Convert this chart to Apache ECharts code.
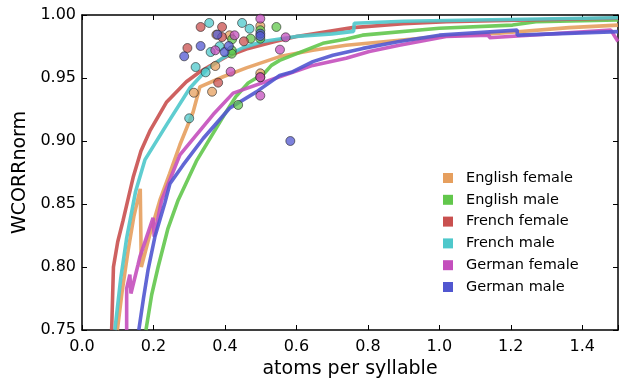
<!DOCTYPE html>
<html>
<head>
<meta charset="utf-8">
<script src="https://cdn.jsdelivr.net/npm/echarts@6/dist/echarts.min.js"></script>
<style>
  html, body { margin: 0; padding: 0; background: #fff; }
  #chart { width: 626px; height: 380px; }
</style>
</head>
<body>
<div id="chart"></div>
<script>
// group names, in legend order
const groups = ['English female', 'English male', 'French female', 'French male', 'German female', 'German male']
const colors = ['#e69f5e', '#62c74c', '#c9504f', '#4ec8cb', '#c44fbd', '#5157d0']

// x axis ticks
const xTicks = [0.0, 0.2, 0.4, 0.6, 0.8, 1.0, 1.2, 1.4]
const yTicks = [0.75, 0.80, 0.85, 0.90, 0.95, 1.00]

// curves: [atoms per syllable, WCORRnorm]
const englishFemaleLine = [
  [0.099, 0.75], [0.112, 0.78], [0.129, 0.813], [0.145, 0.84], [0.163, 0.862],
  [0.166, 0.80], [0.19, 0.826], [0.218, 0.853], [0.245, 0.874], [0.274, 0.897],
  [0.311, 0.923], [0.330, 0.943], [0.395, 0.951], [0.46, 0.958], [0.553, 0.967],
  [0.646, 0.972], [0.739, 0.976], [0.888, 0.980], [1.0, 0.983], [1.168, 0.9855],
  [1.363, 0.99], [1.5, 0.992]
]
const englishMaleLine = [
  [0.179, 0.75], [0.195, 0.778], [0.213, 0.80], [0.24, 0.83], [0.269, 0.853],
  [0.32, 0.884], [0.39, 0.917], [0.43, 0.935], [0.465, 0.946], [0.511, 0.954],
  [0.53, 0.96], [0.553, 0.964], [0.674, 0.9775], [0.74, 0.981], [0.785, 0.984],
  [1.0, 0.9895], [1.205, 0.992], [1.27, 0.9947], [1.5, 0.996]
]
const frenchFemaleLine = [
  [0.083, 0.75], [0.088, 0.80], [0.10, 0.82], [0.115, 0.837], [0.143, 0.871],
  [0.165, 0.892], [0.19, 0.908], [0.237, 0.931], [0.292, 0.947], [0.33, 0.955],
  [0.367, 0.961], [0.404, 0.967], [0.46, 0.973], [0.54, 0.979], [0.6, 0.983],
  [0.757, 0.990], [0.9, 0.993], [1.02, 0.9947], [1.25, 0.996], [1.5, 0.9975]
]
const frenchMaleLine = [
  [0.092, 0.75], [0.108, 0.79], [0.125, 0.823], [0.15, 0.86], [0.176, 0.885],
  [0.237, 0.913], [0.302, 0.942], [0.35, 0.957], [0.394, 0.966], [0.45, 0.974],
  [0.506, 0.979], [0.6, 0.983], [0.70, 0.985], [0.76, 0.987], [0.762, 0.9935],
  [0.9, 0.995], [1.1, 0.996], [1.5, 0.9978]
]
const germanFemaleLine = [
  [0.125, 0.75], [0.125, 0.783], [0.134, 0.794], [0.137, 0.779], [0.157, 0.802],
  [0.162, 0.808], [0.199, 0.839], [0.202, 0.824], [0.223, 0.853], [0.274, 0.889],
  [0.367, 0.921], [0.423, 0.938], [0.553, 0.951], [0.646, 0.960], [0.739, 0.9656],
  [0.804, 0.971], [0.888, 0.976], [1.019, 0.9829], [1.14, 0.984], [1.14, 0.982],
  [1.48, 0.988], [1.5, 0.979]
]
const germanMaleLine = [
  [0.159, 0.75], [0.172, 0.775], [0.185, 0.798], [0.204, 0.824], [0.232, 0.851],
  [0.246, 0.866], [0.283, 0.881], [0.339, 0.902], [0.413, 0.926], [0.488, 0.939],
  [0.553, 0.952], [0.59, 0.955], [0.646, 0.963], [0.702, 0.968], [0.786, 0.9735],
  [0.888, 0.979], [1.0, 0.984], [1.218, 0.988], [1.218, 0.984], [1.5, 0.9868]
]

// individual speaker points
const englishFemalePts = [
  [0.499, 0.9913], [0.413, 0.9839], [0.373, 0.9595], [0.313, 0.9383],
  [0.364, 0.9391], [0.499, 0.9537], [0.376, 0.9844]
]
const englishMalePts = [
  [0.499, 0.9879], [0.499, 0.9812], [0.544, 0.9905], [0.42, 0.9807],
  [0.472, 0.9812], [0.419, 0.972], [0.419, 0.9693], [0.437, 0.9286]
]
const frenchFemalePts = [
  [0.332, 0.9905], [0.392, 0.9905], [0.392, 0.9825], [0.453, 0.9791],
  [0.295, 0.9738], [0.381, 0.9463], [0.499, 0.9506]
]
const frenchMalePts = [
  [0.356, 0.9937], [0.448, 0.9937], [0.469, 0.9891], [0.360, 0.9706],
  [0.385, 0.9752], [0.318, 0.9587], [0.346, 0.9545], [0.300, 0.918]
]
const germanFemalePts = [
  [0.499, 0.9971], [0.570, 0.9823], [0.427, 0.9839], [0.373, 0.972],
  [0.554, 0.9725], [0.416, 0.955], [0.499, 0.9506], [0.499, 0.936]
]
const germanMalePts = [
  [0.499, 0.9852], [0.499, 0.9833], [0.379, 0.9844], [0.332, 0.9754],
  [0.286, 0.9672], [0.399, 0.9706], [0.411, 0.9754], [0.583, 0.90]
]

const lines = [englishFemaleLine, englishMaleLine, frenchFemaleLine, frenchMaleLine, germanFemaleLine, germanMaleLine]
const points = [englishFemalePts, englishMalePts, frenchFemalePts, frenchMalePts, germanFemalePts, germanMalePts]

const font = 'DejaVu Sans'

const chart = echarts.init(document.getElementById('chart'), null, { renderer: 'canvas' })

const axisCommon = {
  type: 'value',
  axisLine: { show: true, onZero: false, lineStyle: { color: '#000', width: 1.5 } },
  axisTick: { show: true, inside: true, length: 5, lineStyle: { color: '#000', width: 1 } },
  splitLine: { show: false }
}

const lineSeries = groups.map((g, i) => ({
  name: g,
  type: 'line',
  data: lines[i],
  showSymbol: false,
  symbol: 'none',
  clip: true,
  z: 2,
  itemStyle: { color: colors[i] },
  lineStyle: { color: colors[i], width: 3.6, opacity: 0.9 }
}))

const pointSeries = groups.map((g, i) => ({
  name: g,
  type: 'scatter',
  data: points[i],
  symbolSize: 9,
  z: 3,
  itemStyle: { color: colors[i], opacity: 0.75, borderColor: '#222', borderWidth: 0.8 }
}))

const option = {
  animation: false,
  backgroundColor: '#fff',
  grid: { left: 82, right: 8, top: 15, bottom: 50, containLabel: false, outerBoundsMode: 'none' },
  legend: {
    orient: 'vertical',
    left: 438,
    top: 165,
    icon: 'rect',
    itemWidth: 10,
    itemHeight: 10,
    itemGap: 5.8,
    data: groups,
    textStyle: { fontFamily: font, fontSize: 14.5, color: '#000', lineHeight: 16, padding: [0, 0, 0, 8] }
  },
  xAxis: [
    {
      ...axisCommon,
      position: 'bottom',
      min: 0,
      max: 1.5,
      interval: xTicks[1] - xTicks[0],
      name: 'atoms per syllable',
      nameLocation: 'middle',
      nameGap: 30,
      nameTextStyle: { fontFamily: font, fontSize: 19, color: '#000' },
      axisLabel: {
        margin: 9,
        fontFamily: font,
        fontSize: 16,
        color: '#000',
        formatter: v => xTicks.some(t => Math.abs(t - v) < 1e-6) ? v.toFixed(1) : ''
      }
    },
    {
      ...axisCommon,
      position: 'top',
      min: 0,
      max: 1.5,
      interval: xTicks[1] - xTicks[0],
      axisLabel: { show: false }
    }
  ],
  yAxis: [
    {
      ...axisCommon,
      position: 'left',
      min: yTicks[0],
      max: yTicks[yTicks.length - 1],
      interval: 0.05,
      name: 'WCORRnorm',
      nameLocation: 'middle',
      nameGap: 50,
      nameTextStyle: { fontFamily: font, fontSize: 19, color: '#000' },
      axisLabel: {
        margin: 6,
        fontFamily: font,
        fontSize: 16,
        color: '#000',
        formatter: v => v.toFixed(2)
      }
    },
    {
      ...axisCommon,
      position: 'right',
      min: yTicks[0],
      max: yTicks[yTicks.length - 1],
      interval: 0.05,
      axisLabel: { show: false }
    }
  ],
  series: [...lineSeries, ...pointSeries]
}

chart.setOption(option)
</script>
</body>
</html>
